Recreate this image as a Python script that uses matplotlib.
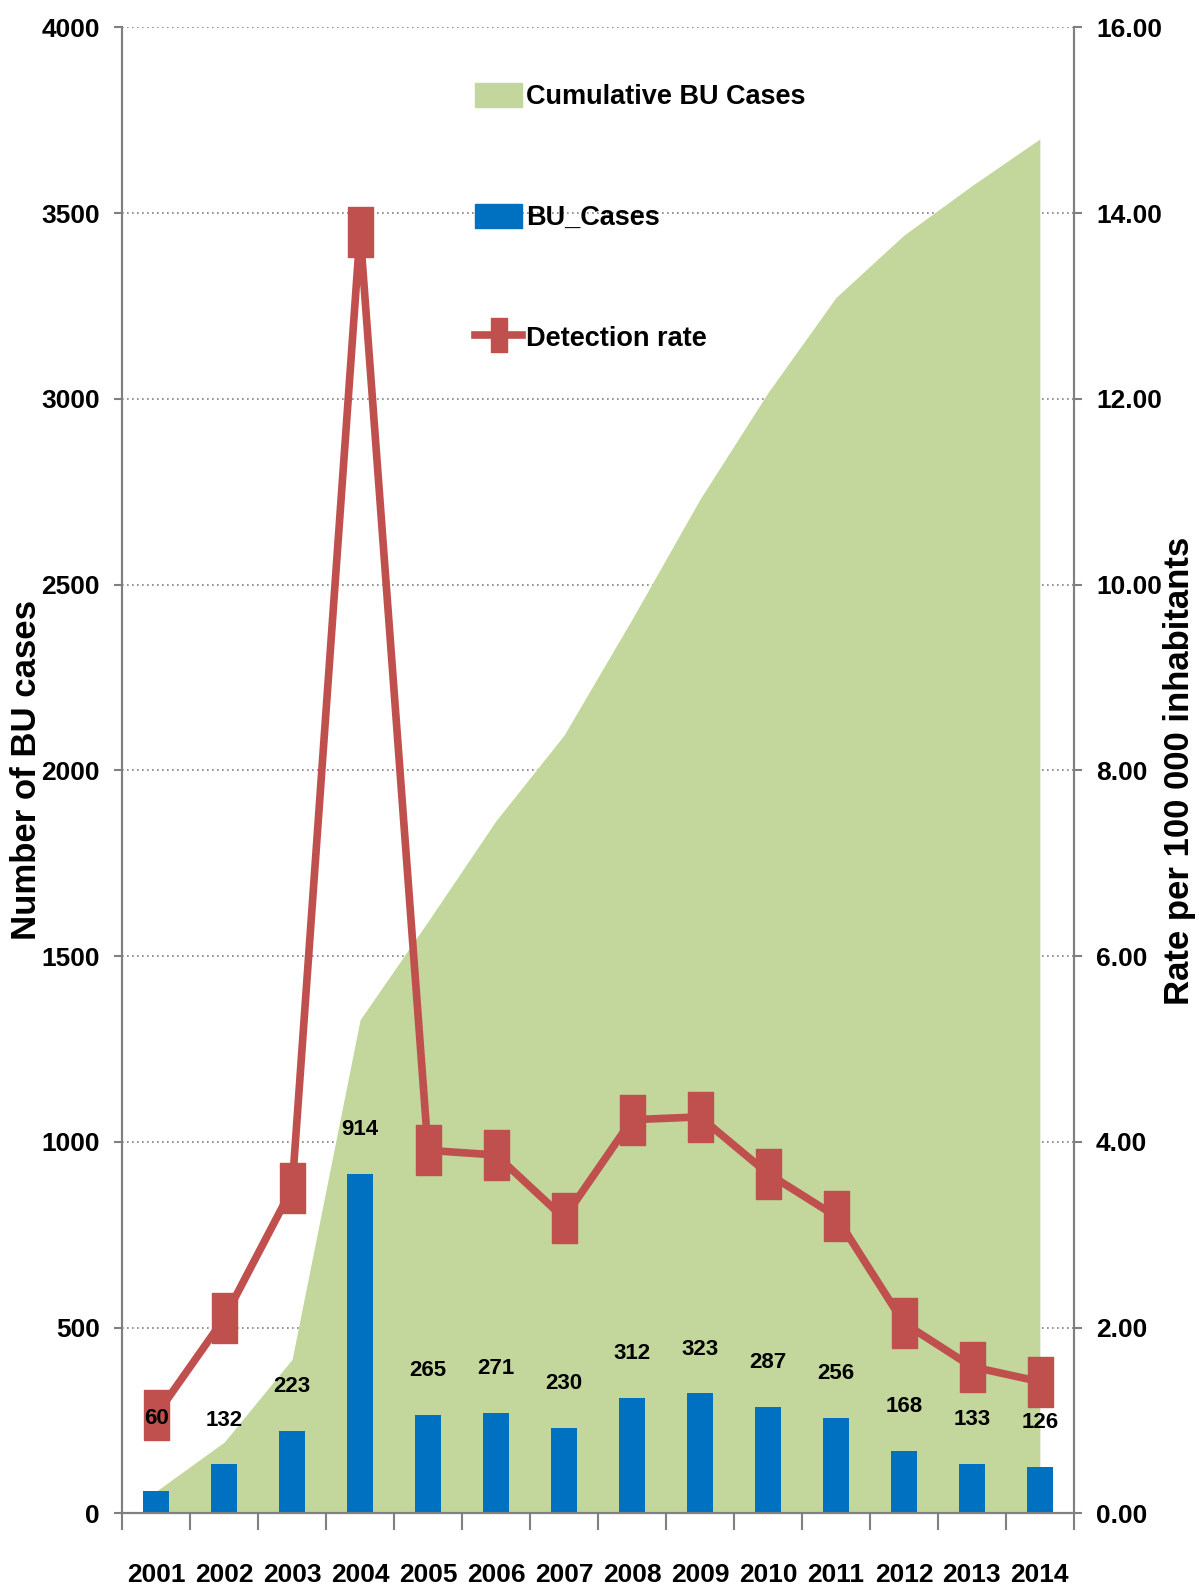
import matplotlib.pyplot as plt
from matplotlib.patches import Patch
from matplotlib.lines import Line2D

years = ["2001", "2002", "2003", "2004", "2005", "2006", "2007",
         "2008", "2009", "2010", "2011", "2012", "2013", "2014"]
bu_cases = [60, 132, 223, 914, 265, 271, 230, 312, 323, 287, 256, 168, 133, 126]
cumulative = [60, 192, 415, 1329, 1594, 1865, 2095, 2407, 2730, 3017, 3273, 3441, 3574, 3700]
detection_rate = [1.06, 2.10, 3.50, 13.80, 3.91, 3.86, 3.18, 4.24, 4.27, 3.66, 3.20, 2.05, 1.58, 1.42]

GREEN = "#C3D69B"
BLUE = "#0070C0"
RED = "#C0504D"
GREY = "#808080"
FONT = ["Liberation Sans", "DejaVu Sans"]

plt.rcParams["font.family"] = FONT
plt.rcParams["font.weight"] = "bold"

fig = plt.figure(figsize=(11.99, 15.96), dpi=100)
ax1 = fig.add_axes([0.1019, 0.0517, 0.7937, 0.9311])
x = list(range(len(years)))

ax1.fill_between(x, cumulative, color=GREEN, linewidth=0, zorder=1)
ax1.bar(x, bu_cases, width=0.39, color=BLUE, zorder=2)

ax1.set_xlim(-0.5, len(years) - 0.5)
ax1.set_ylim(0, 4000)
ax1.set_yticks(range(0, 4001, 500))
ax1.set_axisbelow(True)
ax1.yaxis.grid(True, linestyle=(0, (1, 2)), color=GREY, linewidth=1.2, zorder=0.5)

ax1.set_xticks(x)
ax1.set_xticklabels(years)
ax1.set_xticks([i - 0.5 for i in range(len(years) + 1)], minor=True)
ax1.tick_params(axis="x", which="major", length=0, pad=36, labelsize=19)
ax1.tick_params(axis="x", which="minor", length=12, width=1.5, color=GREY)
ax1.tick_params(axis="y", length=6, width=1.5, color=GREY, pad=10, labelsize=19)

ax1.spines["top"].set_visible(False)
for s in ["left", "bottom", "right"]:
    ax1.spines[s].set_color(GREY)
    ax1.spines[s].set_linewidth(1.5)

ax1.set_ylabel("Number of BU cases", fontsize=25, fontweight="bold")
ax1.yaxis.set_label_coords(-0.083, 0.5)

ax2 = ax1.twinx()
ax2.set_ylim(0, 16)
ax2.set_yticks(range(0, 17, 2))
ax2.set_yticklabels([f"{v:.2f}" for v in range(0, 17, 2)])
ax2.tick_params(axis="y", length=6, width=1.5, color=GREY, pad=10, labelsize=19)
ax2.spines["top"].set_visible(False)
for s in ["left", "bottom", "right"]:
    ax2.spines[s].set_color(GREY)
    ax2.spines[s].set_linewidth(1.5)

rect = [(-1, -2), (1, -2), (1, 2), (-1, 2), (-1, -2)]
ax2.plot(x, detection_rate, color=RED, linewidth=5.5, marker=rect,
         markersize=36, markerfacecolor=RED, markeredgecolor=RED, zorder=3)
ax2.set_ylabel("Rate per 100 000 inhabitants", fontsize=25,
               fontweight="bold", rotation=90)
ax2.yaxis.set_label_coords(1.094, 0.5)

# value labels drawn above the line
for i, v in enumerate(bu_cases):
    off = 52 if v == 60 else 32
    ax2.annotate(str(v), xy=(i, v), xycoords=ax1.transData,
                 xytext=(0, off), textcoords="offset points",
                 ha="center", va="center", fontweight="bold", fontsize=16,
                 zorder=5)

handles = [
    Patch(facecolor=GREEN, edgecolor=GREEN),
    Patch(facecolor=BLUE, edgecolor=BLUE),
    Line2D([0], [0], color=RED, linewidth=5.5, marker=rect, markersize=24,
           markerfacecolor=RED, markeredgecolor=RED),
]
ax2.legend(handles, ["Cumulative BU Cases", "BU_Cases", "Detection rate"],
           loc="upper left", bbox_to_anchor=(0.345, 0.979), frameon=False,
           prop={"weight": "bold", "size": 19.5},
           labelspacing=3.45, handlelength=1.75, handleheight=1.0,
           handletextpad=0.15)

fig.savefig("out.png", dpi=100)
